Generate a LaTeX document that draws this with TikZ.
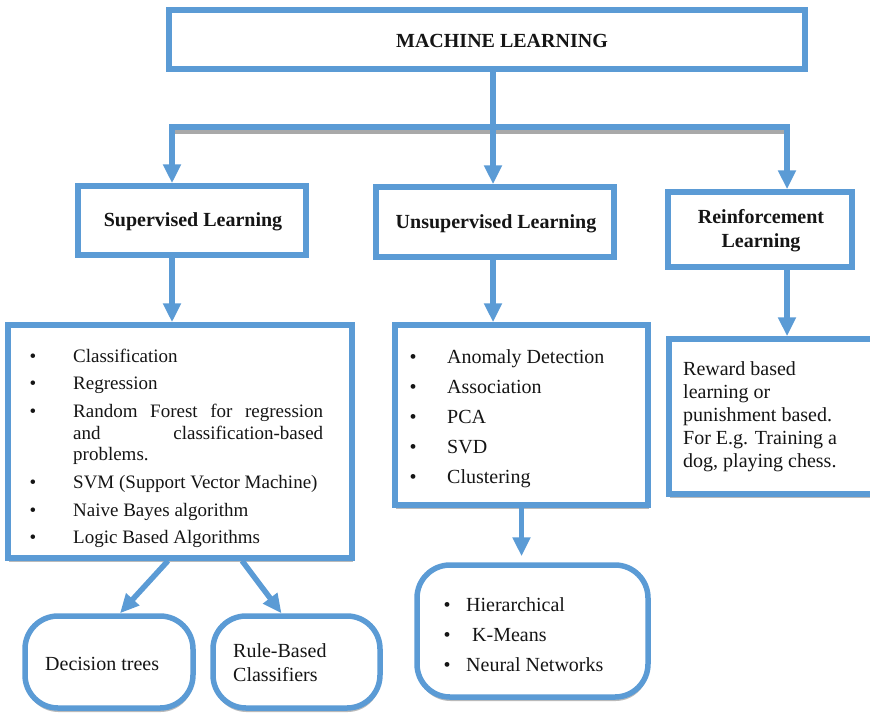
\documentclass[tikz,border=0pt]{standalone}
\usepackage{fontspec}
\setmainfont{Liberation Serif}
\usetikzlibrary{arrows.meta,shadows}
\definecolor{mlblue}{HTML}{5B9BD5}
\definecolor{shadowgray}{HTML}{A9A9A9}
\definecolor{ink}{HTML}{151515}

\tikzset{
  box/.style={draw=mlblue, line width=5.5pt, fill=white, inner sep=0pt},
  shadowed/.style={drop shadow={shadow xshift=0.5pt, shadow yshift=-4pt, fill=shadowgray, opacity=0.8}},
  roundbox/.style={box, rounded corners=33pt},
  arr/.style={draw=mlblue, line width=5.5pt, -{Triangle[width=17pt,length=19pt]}},
  head/.style={font=\fontsize{20}{24}\selectfont\bfseries, text=ink, anchor=base, inner sep=0pt},
  item/.style={font=\fontsize{20}{24}\selectfont, text=ink, anchor=base west, inner sep=0pt},
  smallitem/.style={font=\fontsize{19}{23}\selectfont, text=ink, anchor=base west, inner sep=0pt},
  dot/.style={font=\fontsize{19}{23}\selectfont, text=ink, anchor=base, inner sep=0pt},
}

\begin{document}
\begin{tikzpicture}[x=1pt, y=-1pt]
\useasboundingbox (0,0) rectangle (870,713);
\clip (0,0) rectangle (870,713);

% ---------- top level ----------
\node[box, minimum width=636pt, minimum height=59pt] (ml) at (487,39.5) {};
\node[head] (mlt) at (502,47.5) {MACHINE LEARNING};

% distribution bar
\coordinate (barL) at (172,127);
\coordinate (barM) at (493,127);
\coordinate (barR) at (787,127);
\draw[shadowgray, line width=4pt] ([yshift=-4.5pt]barL) -- ([yshift=-4.5pt]barR);
\draw[mlblue, line width=5.5pt, line cap=rect] (barL) -- (barR);
\draw[mlblue, line width=5.5pt] (ml.south -| barM) -- (barM);

% ---------- categories ----------
\node[box, minimum width=228pt, minimum height=69pt] (sup) at (192,220.5) {};
\node[head] (supt) at (193,226.5) {Supervised Learning};

\node[box, minimum width=238pt, minimum height=70pt] (uns) at (495,222) {};
\node[head] (unst) at (496,228) {Unsupervised Learning};

\node[box, minimum width=184pt, minimum height=75pt] (rf) at (760,229.5) {};
\node[head] (rft1) at (761,223) {Reinforcement};
\node[head] (rft2) at (761,247) {Learning};

\draw[arr] (barL) -- (barL |- sup.north);
\draw[arr] (barM) -- (barM |- uns.north);
\draw[arr] (barR) -- (barR |- rf.north);

% ---------- detail boxes ----------
\node[box, shadowed, minimum width=344pt, minimum height=233pt] (suplist) at (180,441.5) {};
\node[box, shadowed, minimum width=253pt, minimum height=180pt] (unslist) at (521.5,415) {};
\node[box, shadowed, minimum width=216pt, minimum height=155pt] (rfbody) at (777,416.5) {};

\draw[arr] (sup.south -| barL) -- (suplist.north -| barL);
\draw[arr] (uns.south -| barM) -- (unslist.north -| barM);
\draw[arr] (rf.south -| barR) -- (rfbody.north -| barR);

% supervised methods
\foreach \yy [count=\i] in {362,389,417,488,516,543}
  \node[dot] (sb\i) at (33,\yy) {\textbullet};
\node[smallitem] (s1) at (73,362) {Classification};
\node[smallitem] (s2) at (73,389) {Regression};
\node[smallitem] (s3a) at (73,417) {\hbox to 250pt{Random\hfill Forest\hfill for\hfill regression}};
\node[smallitem] (s3b) at (73,439) {\hbox to 250pt{and\hfill classification-based}};
\node[smallitem] (s3c) at (73,460) {problems.};
\node[smallitem] (s4) at (73,488) {SVM (Support Vector Machine)};
\node[smallitem] (s5) at (73,516) {Naive Bayes algorithm};
\node[smallitem] (s6) at (73,543) {Logic Based Algorithms};

% unsupervised methods
\foreach \yy [count=\i] in {363,393,423,453,483}
  \node[dot, font=\fontsize{20}{24}\selectfont] (ub\i) at (413,\yy) {\textbullet};
\node[item] (u1) at (447,363) {Anomaly Detection};
\node[item] (u2) at (447,393) {Association};
\node[item] (u3) at (447,423) {PCA};
\node[item] (u4) at (447,453) {SVD};
\node[item] (u5) at (447,483) {Clustering};

% reinforcement description
\node[item] (r1) at (683,375) {Reward based};
\node[item] (r2) at (683,398) {learning or};
\node[item] (r3) at (683,421) {punishment based.};
\node[item] (r4) at (683,444) {For E.g. Training a};
\node[item] (r5) at (683,467) {dog, playing chess.};

% ---------- leaf boxes ----------
\node[roundbox, shadowed, minimum width=168pt, minimum height=92pt] (dt) at (109,662) {};
\node[roundbox, shadowed, minimum width=167pt, minimum height=92pt] (rb) at (296.5,662) {};
\node[roundbox, shadowed, minimum width=231pt, minimum height=132pt] (cl) at (532.5,631) {};

\draw[arr] ([xshift=-12pt]suplist.south) -- ([xshift=11pt]dt.north);
\draw[arr] ([xshift=62pt]suplist.south) -- ([xshift=-15pt]rb.north);
\draw[arr, shorten >=6pt] (unslist.south) -- (unslist.south |- cl.north);

\node[item] (dtt) at (45,670) {Decision trees};
\node[item] (rbt1) at (233,657) {Rule-Based};
\node[item] (rbt2) at (233,681) {Classifiers};

\foreach \yy [count=\i] in {611,641,671}
  \node[dot, font=\fontsize{20}{24}\selectfont] (cb\i) at (447,\yy) {\textbullet};
\node[item] (c1) at (466,611) {Hierarchical};
\node[item] (c2) at (472,641) {K-Means};
\node[item] (c3) at (466,671) {Neural Networks};
\end{tikzpicture}
\end{document}
